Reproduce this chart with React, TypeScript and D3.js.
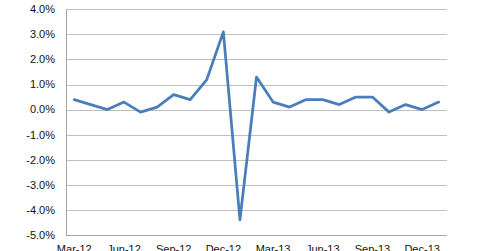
import React from "react";
import * as d3 from "d3";

const months = [
  "Mar-12","Apr-12","May-12","Jun-12","Jul-12","Aug-12","Sep-12","Oct-12","Nov-12","Dec-12",
  "Jan-13","Feb-13","Mar-13","Apr-13","May-13","Jun-13","Jul-13","Aug-13","Sep-13","Oct-13",
  "Nov-13","Dec-13","Jan-14",
];
const values = [
  0.4, 0.2, 0.0, 0.3, -0.1, 0.1, 0.6, 0.4, 1.2, 3.1,
  -4.4, 1.3, 0.3, 0.1, 0.4, 0.4, 0.2, 0.5, 0.5, -0.1,
  0.2, 0.0, 0.3,
];
const yTicks = [4, 3, 2, 1, 0, -1, -2, -3, -4, -5];
const xLabels = ["Mar-12","Jun-12","Sep-12","Dec-12","Mar-13","Jun-13","Sep-13","Dec-13"];

export default function App() {
  const W = 480, H = 251;
  const left = 66, right = 447, top = 9.3, bottom = 235;
  const x = d3.scalePoint<string>().domain(months).range([left, right]).padding(0.5);
  const y = d3.scaleLinear().domain([-5, 4]).range([bottom, top]);
  const line = d3.line<number>()
    .x((_, i) => x(months[i]) as number)
    .y((d) => y(d));
  const font = "'Liberation Sans', Arial, sans-serif";
  return (
    <svg width={W} height={H} style={{ position: "absolute", left: 0, top: 0, background: "#fff" }}>
      {yTicks.map((t) => (
        <g key={t}>
          <line x1={left} x2={right} y1={Math.round(y(t)) + 0.5} y2={Math.round(y(t)) + 0.5} stroke="#bfbfbf" strokeWidth={1} />
          <text x={55} y={y(t)} dy="0.35em" textAnchor="end" fontFamily={font} fontSize={11} fill="#111">
            {t.toFixed(1) + "%"}
          </text>
        </g>
      ))}
      <line x1={left + 0.5} x2={left + 0.5} y1={top} y2={bottom} stroke="#a6a6a6" strokeWidth={1} />
      <line x1={left} x2={right} y1={Math.round(bottom) + 0.5} y2={Math.round(bottom) + 0.5} stroke="#a6a6a6" strokeWidth={1} />
      {xLabels.map((m) => (
        <text key={m} x={x(m)} y={252.5} textAnchor="middle" fontFamily={font} fontSize={11} fill="#111">
          {m}
        </text>
      ))}
      <path d={line(values) || ""} fill="none" stroke="#4a7ebb" strokeWidth={2.75} strokeLinejoin="round" strokeLinecap="round" />
    </svg>
  );
}
